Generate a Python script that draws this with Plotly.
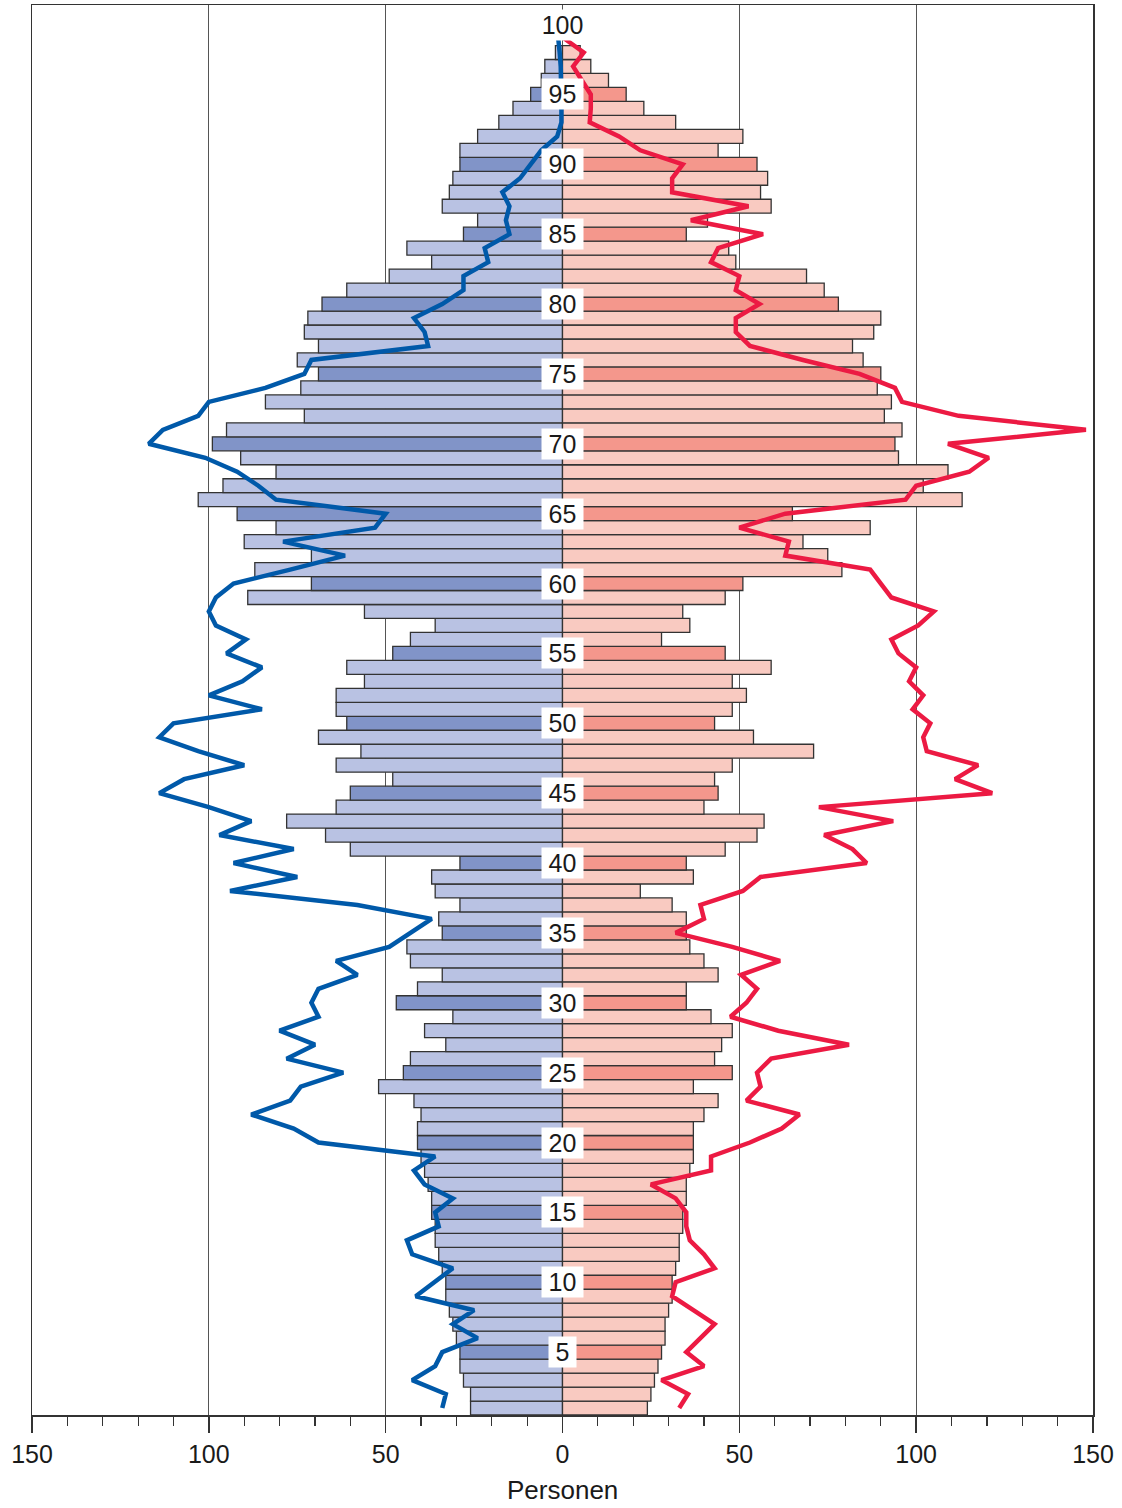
import plotly.graph_objects as go

# ---- data ----
ages_bar = list(range(1, 99))
men = [26, 26, 28, 29, 29, 30, 31, 32, 33, 33,
       34, 35, 36, 36, 37, 37, 38, 39, 40, 41,
       41, 40, 42, 52, 45, 43, 33, 39, 31, 47,
       41, 34, 43, 44, 34, 35, 29, 36, 37, 29,
       60, 67, 78, 64, 60, 48, 64, 57, 69, 61,
       64, 64, 56, 61, 48, 43, 36, 56, 89, 71,
       87, 71, 90, 81, 92, 103, 96, 81, 91, 99,
       95, 73, 84, 74, 69, 75, 69, 73, 72, 68,
       61, 49, 37, 44, 28, 24, 34, 32, 31, 29,
       29, 24, 18, 14, 9, 6, 5, 2]
women = [24, 25, 26, 27, 28, 29, 29, 30, 31, 31,
         32, 33, 33, 34, 34, 35, 35, 36, 37, 37,
         37, 40, 44, 37, 48, 43, 45, 48, 42, 35,
         35, 44, 40, 36, 35, 35, 31, 22, 37, 35,
         46, 55, 57, 40, 44, 43, 48, 71, 54, 43,
         48, 52, 48, 59, 46, 28, 36, 34, 46, 51,
         79, 75, 68, 87, 65, 113, 102, 109, 95, 94,
         96, 91, 93, 89, 90, 85, 82, 88, 90, 78,
         74, 69, 49, 47, 35, 41, 59, 56, 58, 55,
         44, 51, 32, 23, 18, 13, 8, 5]

ages_line = list(range(1, 100))
men_ref = [34, 33, 42.5, 36, 34, 24, 31, 25, 41.5, 36,
           31, 42.5, 44, 35, 36, 31, 39, 42, 36, 69,
           76, 88, 77, 74, 62, 78, 70, 80, 69, 71,
           69, 58, 64, 49, 43, 37, 58, 94, 75, 93,
           76, 97, 88, 100, 114, 107, 90, 103, 114, 110,
           85, 100, 90.5, 85, 95, 89.5, 98, 100, 98, 93,
           77, 61.5, 79, 53, 50, 81, 86, 92, 101, 117,
           113, 103, 100, 84, 73, 71, 38, 39, 42, 34,
           28, 28, 21, 22, 15, 16, 15, 17, 12, 9,
           6, 1.5, 0.3, 0.3, 0.3, 0.5, 0.5, 0.8, 1.2]
women_ref = [33, 35.5, 28, 40, 35, 39, 43, 37, 31, 32,
             43, 40, 36, 35, 35, 32, 25, 42, 42, 53,
             62, 67, 52, 56, 55, 59, 81, 61, 47.5, 52,
             55, 50.5, 61.5, 48, 32, 40, 39, 51, 56, 86,
             82, 74, 93.5, 72.5, 121.5, 111, 117.5, 103, 102, 104,
             99, 102, 98, 100, 95, 93, 100.6, 105, 93, 90,
             87, 63, 64, 50, 63, 97, 100, 115, 120.5, 109,
             148, 112, 96, 94, 84, 68, 53, 49, 49, 55.7,
             49, 50, 42, 44, 56.7, 36.3, 52.6, 31, 31, 34,
             22, 16, 7.7, 8, 8, 5.5, 3, 6, 0.5]

label_ages = list(range(5, 101, 5))
tick_vals = [-150, -100, -50, 0, 50, 100, 150]
tick_text = ["150", "100", "50", "0", "50", "100", "150"]

# ---- styles ----
MEN_LIGHT, MEN_DARK = "#B9C2E3", "#8194C8"
WOMEN_LIGHT, WOMEN_DARK = "#F9CAC1", "#F4978C"
BLUE, RED = "#0059A9", "#EC1A43"
FONT = "Liberation Sans, Arial, sans-serif"

men_colors = [MEN_DARK if a % 5 == 0 else MEN_LIGHT for a in ages_bar]
women_colors = [WOMEN_DARK if a % 5 == 0 else WOMEN_LIGHT for a in ages_bar]

fig = go.Figure()
fig.add_trace(go.Bar(y=ages_bar, x=[-v for v in men], orientation="h",
                     marker=dict(color=men_colors, line=dict(color="#333333", width=1.3)),
                     showlegend=False, hoverinfo="skip"))
fig.add_trace(go.Bar(y=ages_bar, x=women, orientation="h",
                     marker=dict(color=women_colors, line=dict(color="#333333", width=1.3)),
                     showlegend=False, hoverinfo="skip"))
fig.add_trace(go.Scatter(y=ages_line, x=[-v for v in men_ref], mode="lines",
                         line=dict(color=BLUE, width=4.5), showlegend=False, hoverinfo="skip"))
fig.add_trace(go.Scatter(y=ages_line, x=women_ref, mode="lines",
                         line=dict(color=RED, width=4.5), showlegend=False, hoverinfo="skip"))

for a in label_ages:
    w = 13 + 14 * len(str(a))
    fig.add_annotation(x=0, y=a, xref="x", yref="y", text=str(a), showarrow=False,
                       font=dict(family=FONT, size=25, color="#1a1a1a"),
                       bgcolor="white", borderpad=0, width=w, height=30,
                       xanchor="center", yanchor="middle")

fig.add_annotation(x=0, y=-75 / 1412, xref="x", yref="paper", text="Personen",
                   showarrow=False, font=dict(family=FONT, size=26, color="#1a1a1a"),
                   xanchor="center", yanchor="middle")

fig.update_layout(
    width=1122, height=1508,
    margin=dict(l=32, r=29, t=3, b=93),
    paper_bgcolor="white", plot_bgcolor="white",
    barmode="overlay", bargap=0,
    font=dict(family=FONT, size=25, color="#1a1a1a"),
)
fig.update_xaxes(range=[-150, 150], tickvals=tick_vals, ticktext=tick_text,
                 showgrid=True, gridcolor="#555555", gridwidth=1,
                 zeroline=False, showline=True, linecolor="#333333", linewidth=1.5,
                 mirror=True, ticks="outside", ticklen=16, tickwidth=1.5, tickcolor="#333333",
                 minor=dict(dtick=10, ticks="outside", ticklen=9, tickwidth=1.2,
                            tickcolor="#333333", showgrid=False),
                 tickfont=dict(family=FONT, size=25, color="#1a1a1a"))
fig.update_yaxes(range=[0.5, 101.4], showticklabels=False, ticks="", showgrid=False,
                 zeroline=False, showline=True, linecolor="#333333", linewidth=1.5,
                 mirror=True)

fig.write_html("out.html", config={"displayModeBar": False, "staticPlot": True},
               post_script="document.body.style.margin='0';document.body.style.overflow='hidden';")
